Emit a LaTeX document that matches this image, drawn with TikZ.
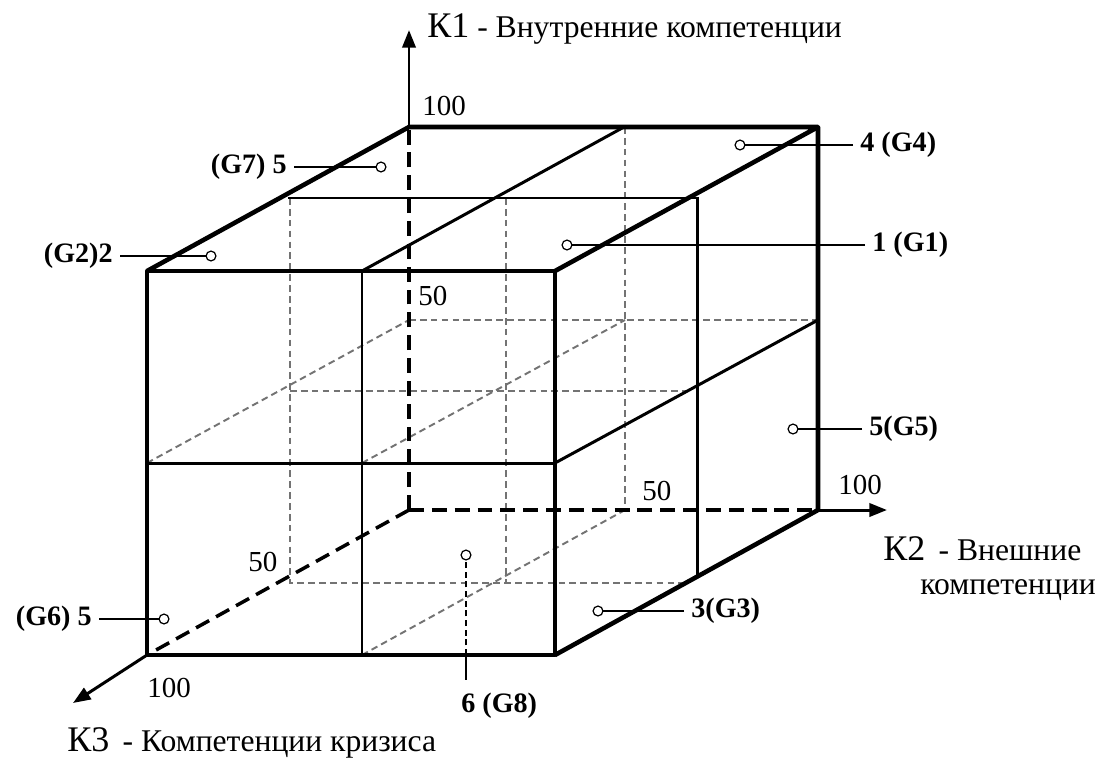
\documentclass[tikz,border=0pt]{standalone}
\usepackage{fontspec}
\setmainfont{Liberation Serif}
\usepackage{tikz}
\usetikzlibrary{arrows.meta,positioning,calc}

\newcommand{\kfont}{\fontsize{20.5}{22}\selectfont}

\tikzset{
  rebro/.style={line width=2.6pt, line join=round},
  seredina/.style={line width=1.7pt},
  skryt/.style={gray!90!black, line width=1.1pt, dash pattern=on 3.8pt off 2.4pt},
  os/.style={line width=2pt, dash pattern=on 8.5pt off 4.5pt},
  osstr/.style={line width=1.7pt, -{Triangle[length=10pt,width=7.5pt]}},
  vynoska/.style={line width=0.85pt},
  vynoskahid/.style={line width=0.8pt, dash pattern=on 3.5pt off 2pt},
  tochka/.style={circle, draw, solid, fill=white, line width=0.7pt, inner sep=0pt, minimum size=5.6pt},
  gruppa/.style={font=\rmfamily\fontsize{16}{18}\selectfont\bfseries, inner xsep=4pt, inner ysep=1pt},
  chislo/.style={font=\rmfamily\fontsize{16.5}{18}\selectfont, inner sep=0pt, anchor=base west},
  ostekst/.style={font=\rmfamily\fontsize{18}{20}\selectfont, inner sep=0pt, anchor=base west},
}

\begin{document}
\begin{tikzpicture}[x=0.02cm, y=-0.02cm]
    \useasboundingbox (0,0) rectangle (1105,758);

    % вершины куба
    \coordinate (O) at (409,510);
    \coordinate (BTL) at (409,127);
    \coordinate (BTR) at (818,127);
    \coordinate (BBR) at (818,510);
    \coordinate (FTL) at (147,271);
    \coordinate (FTR) at (555,271);
    \coordinate (FBR) at (555,655);
    \coordinate (FBL) at (147,655);

    % скрытые линии
    \draw[skryt] (290,198) -- (290,583) -- (684,583);
    \draw[skryt] (506,198) -- (506,583);
    \draw[skryt] (625,127) -- (625,510);
    \draw[skryt] (409,320) -- (818,320);
    \draw[skryt] (290,391) -- (686,391);
    \draw[skryt] (147,463) -- (409,320);
    \draw[skryt] (362,463) -- (625,320);
    \draw[skryt] (362,655) -- (625,510);

    % оси
    \coordinate (K1end) at (409,30);
    \coordinate (K2end) at (887,510);
    \coordinate (K3end) at (73,703);
    \draw[os] (O) -- (BTL);
    \draw[os] (O) -- (BBR);
    \draw[os] (O) -- (FBL);
    \draw[osstr] (BTL) -- (K1end);
    \draw[osstr] (BBR) -- (K2end);
    \draw[osstr] (FBL) -- (K3end);

    % средние линии
    \draw[seredina] (362,271) -- (362,655);
    \draw[seredina] (147,463) -- (555,463);
    \draw[seredina] (362,271) -- (624,127);
    \draw[seredina] (555,463) -- (818,320);
    \draw[seredina] (288,198) -- (697,198) -- (697,577);

    % рёбра куба
    \draw[rebro] (FTL) rectangle (FBR);
    \draw[rebro] (FTL) -- (BTL) -- (BTR) -- (FTR);
    \draw[rebro] (BTR) -- (BBR) -- (FBR);

    % подписи осей
    \node[ostekst] (k1) at (427,37) {{\kfont К1} - Внутренние компетенции};
    \node[ostekst] (k2) at (883,560) {{\kfont К2} \,- Внешние};
    \node[ostekst] (k2b) at (920,594) {компетенции};
    \node[ostekst] (k3) at (67,751) {{\kfont К3} \,- Компетенции кризиса};

    % шкала
    \node[chislo] (n1) at (422,115) {100};
    \node[chislo] (n2) at (418,305) {50};
    \node[chislo] (n3) at (642,500) {50};
    \node[chislo] (n4) at (838,494) {100};
    \node[chislo] (n5) at (248,571) {50};
    \node[chislo] (n6) at (147,697) {100};

    % группы слева
    \foreach \n/\px/\py/\lx/\t in {7/381/167/294/{(G7) 5}, 2/211/256/120/{(G2)2}, 6/164/619/99/{(G6) 5}} {
        \node[gruppa, anchor=east] (g\n) at (\lx,\py) {\t};
        \draw[vynoska] (g\n.east) -- (\px,\py) node[tochka] (p\n) {};
    }

    % группы справа
    \foreach \n/\px/\py/\lx/\t in {4/740/145/853/{4 (G4)}, 1/567/245/865/{1 (G1)}, 5/793/429/862/{5(G5)}, 3/598/611/684/{3(G3)}} {
        \node[gruppa, anchor=west] (g\n) at (\lx,\py) {\t};
        \draw[vynoska] (g\n.west) -- (\px,\py) node[tochka] (p\n) {};
    }

    % группа 8
    \coordinate (c8) at (466,655);
    \node[gruppa, anchor=north west, inner xsep=0pt] (g8) at (461,691) {6 (G8)};
    \draw[vynoskahid] (c8) -- (466,555) node[tochka] (p8) {};
    \draw[vynoska, shorten >=6pt] (c8) -- (c8 |- g8.north);
\end{tikzpicture}
\end{document}
